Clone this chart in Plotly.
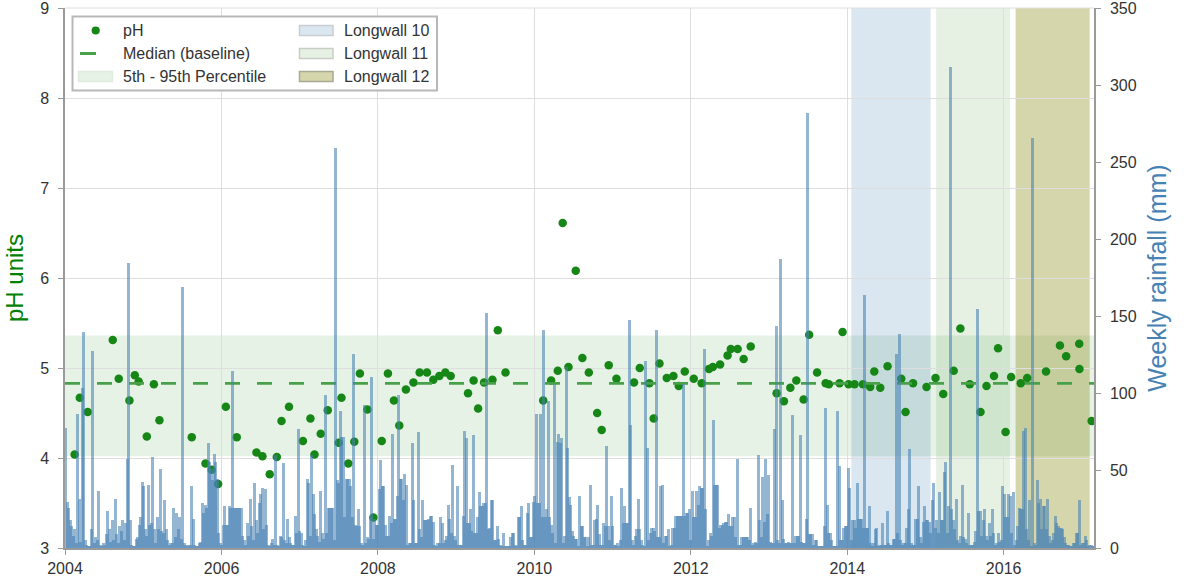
import pandas as pd
import plotly.graph_objects as go

# ---------------- data ----------------
ph_dates = [
    "2004-02-15", "2004-03-10", "2004-04-16", "2004-08-11", "2004-09-08", "2004-10-28", "2004-11-22", "2004-12-10",
    "2005-01-17", "2005-02-19", "2005-03-17", "2005-08-15", "2005-10-18", "2005-11-16", "2005-12-16",
    "2006-01-21", "2006-03-13", "2006-06-13", "2006-07-11", "2006-08-14", "2006-09-16", "2006-10-08", "2006-11-12",
    "2007-01-16", "2007-02-20", "2007-03-11", "2007-04-09", "2007-05-12", "2007-07-02", "2007-07-15", "2007-08-16",
    "2007-09-13", "2007-10-09", "2007-11-13", "2007-12-11",
    "2008-01-19", "2008-02-17", "2008-03-16", "2008-04-10", "2008-05-11", "2008-06-15", "2008-07-14", "2008-08-17",
    "2008-09-16", "2008-10-14", "2008-11-11", "2008-12-06",
    "2009-02-25", "2009-03-23", "2009-04-13", "2009-05-11", "2009-06-19", "2009-07-14", "2009-08-19",
    "2010-02-11", "2010-03-20", "2010-04-20", "2010-05-13", "2010-06-09", "2010-07-13", "2010-08-13", "2010-09-12",
    "2010-10-21", "2010-11-11", "2010-12-14",
    "2011-01-19", "2011-04-11", "2011-05-08", "2011-06-22", "2011-07-12", "2011-08-08", "2011-09-11", "2011-10-12",
    "2011-11-06", "2011-12-04",
    "2012-01-15", "2012-02-21", "2012-03-26", "2012-04-13", "2012-05-17", "2012-06-21", "2012-07-06", "2012-08-07",
    "2012-09-04", "2012-10-07",
    "2013-02-05", "2013-03-11", "2013-04-10", "2013-05-08", "2013-06-11", "2013-07-07", "2013-08-13", "2013-09-22",
    "2013-10-07", "2013-11-26", "2013-12-10",
    "2014-01-07", "2014-02-04", "2014-03-15", "2014-04-18", "2014-05-07", "2014-06-04", "2014-07-08", "2014-09-10",
    "2014-09-30", "2014-11-04",
    "2015-01-06", "2015-02-17", "2015-03-25", "2015-05-13", "2015-06-13", "2015-07-27", "2015-09-15", "2015-10-13",
    "2015-11-17", "2015-12-06",
    "2016-01-10", "2016-02-05", "2016-03-21", "2016-04-20", "2016-07-17", "2016-09-20", "2016-10-19", "2016-12-19",
    "2016-12-20", "2017-02-15",
]
ph_values = [
    4.04, 4.67, 4.51, 5.31, 4.88, 4.64, 4.92, 4.85,
    4.24, 4.82, 4.42, 4.23, 3.94, 3.87, 3.71,
    4.57, 4.23, 4.06, 4.02, 3.82, 4.01, 4.41, 4.57,
    4.19, 4.44, 4.04, 4.27, 4.53, 4.17, 4.67, 3.94,
    4.18, 4.94, 4.54, 3.34,
    4.19, 4.94, 4.64, 4.36, 4.76, 4.84, 4.95, 4.95,
    4.87, 4.91, 4.95, 4.91,
    4.72, 4.86, 4.55, 4.84, 4.87, 5.42, 4.95,
    4.64, 4.86, 4.97, 6.61, 5.01, 6.08, 5.11, 4.95,
    4.50, 4.31, 5.03,
    4.88, 4.84, 5.00, 4.83, 4.44, 5.05, 4.89, 4.91,
    4.80, 4.96,
    4.88, 4.83, 4.99, 5.01, 5.04, 5.14, 5.21, 5.21,
    5.10, 5.24,
    4.72, 4.63, 4.78, 4.86, 4.65, 5.37, 4.95, 4.83,
    4.82, 4.83, 5.40,
    4.82, 4.82, 4.82, 4.79, 4.96, 4.78, 5.02, 4.88,
    4.51, 4.83,
    4.79, 4.89, 4.71, 4.97, 5.44, 4.82, 4.51, 4.80,
    4.91, 5.22,
    4.29, 4.90, 4.83, 4.89, 4.96, 5.25, 5.13, 5.27,
    4.99, 4.41,
]

ph_median = 4.83
ph_p5 = 4.02
ph_p95 = 5.36

# weekly rainfall (mm), consecutive weeks starting 2004-01-01, in blocks of 52 weeks
rain_2004 = [78, 30, 26, 18, 14, 8, 12, 3, 87, 32, 4, 104, 140, 5, 2, 1, 1, 12, 128, 3,
             7, 5, 37, 2, 1, 3, 2, 9, 24, 12, 4, 18, 5, 32, 9, 3, 14, 11, 18, 5,
             16, 58, 185, 18, 2, 1, 1, 6, 7, 15, 20, 43]
rain_2005 = [40, 12, 8, 41, 15, 16, 59, 12, 3, 20, 12, 51, 11, 10, 31, 12, 5, 2, 3, 3,
             26, 7, 23, 12, 20, 6, 169, 3, 2, 1, 2, 2, 40, 19, 2, 1, 1, 3, 4, 29,
             23, 28, 26, 68, 56, 51, 44, 61, 56, 45, 10, 3]
rain_2006 = [2, 15, 27, 15, 15, 27, 26, 115, 26, 26, 26, 26, 26, 26, 8, 5, 2, 16, 8, 32,
             14, 5, 42, 18, 10, 29, 35, 39, 12, 38, 15, 2, 1, 3, 6, 2, 60, 2, 1, 8,
             7, 55, 5, 3, 19, 7, 3, 2, 2, 21, 10, 77]
rain_2007 = [11, 10, 2, 1, 5, 45, 42, 8, 60, 35, 22, 12, 8, 4, 37, 10, 6, 99, 10, 26,
             26, 26, 26, 5, 259, 44, 42, 89, 72, 72, 20, 45, 45, 45, 40, 20, 126, 15, 14, 25,
             14, 3, 2, 93, 3, 7, 6, 20, 111, 6, 19, 15]
rain_2008 = [15, 38, 57, 40, 40, 15, 8, 8, 21, 16, 74, 19, 19, 34, 99, 45, 45, 31, 48, 41,
             2, 3, 3, 68, 31, 3, 3, 75, 12, 7, 31, 18, 18, 18, 19, 21, 21, 17, 2, 1,
             3, 3, 20, 16, 3, 5, 8, 28, 19, 10, 54, 8]
rain_2009 = [5, 40, 2, 2, 2, 21, 76, 71, 16, 16, 25, 11, 73, 10, 10, 20, 36, 27, 27, 29,
             29, 152, 12, 13, 31, 31, 5, 5, 14, 6, 2, 1, 10, 1, 1, 1, 1, 7, 10, 10,
             2, 1, 20, 20, 27, 5, 2, 2, 23, 29, 7, 7]
rain_2010 = [30, 34, 87, 29, 29, 87, 20, 141, 20, 25, 95, 20, 15, 10, 106, 3, 69, 74, 68, 71,
             3, 8, 117, 65, 33, 28, 11, 8, 6, 6, 1, 34, 14, 14, 7, 7, 1, 7, 41, 2,
             2, 18, 19, 28, 9, 2, 2, 16, 14, 66, 14, 5]
rain_2011 = [34, 14, 2, 2, 3, 1, 5, 39, 16, 27, 16, 16, 148, 80, 5, 2, 8, 12, 32, 12,
             5, 2, 1, 121, 65, 5, 10, 13, 13, 11, 141, 7, 7, 40, 41, 3, 8, 8, 12, 1,
             2, 13, 13, 21, 21, 21, 21, 21, 106, 21, 23, 23]
rain_2012 = [25, 5, 37, 20, 20, 37, 28, 40, 39, 39, 129, 25, 1, 5, 10, 8, 83, 41, 41, 41,
             13, 15, 15, 16, 17, 17, 22, 14, 14, 20, 20, 7, 58, 2, 2, 7, 7, 7, 7, 7,
             5, 26, 2, 3, 4, 3, 60, 18, 7, 46, 17, 58]
rain_2013 = [22, 47, 4, 3, 3, 77, 144, 5, 3, 187, 31, 6, 3, 3, 4, 3, 3, 86, 3, 8,
             8, 8, 73, 4, 3, 3, 19, 282, 9, 9, 9, 2, 5, 5, 1, 1, 1, 1, 14, 91,
             28, 10, 10, 5, 1, 1, 1, 89, 53, 5, 5, 13]
rain_2014 = [14, 14, 52, 39, 5, 18, 18, 13, 42, 19, 19, 19, 13, 164, 13, 13, 27, 3, 1, 3,
             12, 13, 1, 2, 2, 16, 2, 2, 24, 3, 2, 2, 6, 6, 126, 10, 139, 5, 2, 3,
             3, 13, 25, 64, 3, 2, 2, 19, 19, 40, 7, 3]
rain_2015 = [17, 27, 18, 18, 17, 10, 31, 42, 13, 18, 10, 36, 18, 18, 49, 56, 10, 27, 312, 25,
             18, 12, 32, 5, 3, 8, 41, 7, 6, 3, 23, 2, 2, 2, 4, 11, 155, 24, 24, 8,
             18, 25, 8, 5, 16, 8, 25, 10, 2, 3, 10, 4]
rain_2016 = [5, 40, 35, 20, 20, 35, 34, 10, 36, 2, 5, 14, 26, 25, 25, 76, 78, 12, 5, 31,
             1, 266, 3, 2, 44, 29, 32, 12, 27, 27, 12, 32, 8, 3, 5, 10, 21, 16, 14, 13,
             13, 12, 7, 3, 2, 2, 1, 1, 3, 3, 10, 10, 31, 2, 3, 3, 8, 5, 1, 2,
             2, 1, 1]

longwall_names = ["Longwall 10", "Longwall 11", "Longwall 12"]
longwall_starts = ["2014-01-20", "2015-02-20", "2016-02-26"]
longwall_ends = ["2015-01-25", "2016-01-30", "2017-02-06"]

legend_left = ["pH", "Median (baseline)", "5th - 95th Percentile"]

x_start = "2004-01-01"
x_end = "2017-02-26"

# ---------------- style ----------------
GREEN = "rgb(22,135,22)"
MEDIAN = "rgb(72,160,72)"
BAND = "rgba(0,128,0,0.10)"
RAIN = "rgba(70,130,180,0.58)"
LW_FILL = ["rgba(70,130,180,0.20)", "rgba(100,160,80,0.16)", "rgba(128,128,0,0.32)"]
LW_EDGE = ["#c9cdd1", "#c9cdc6", "#a9a994"]
FONT = "Liberation Sans, Arial, sans-serif"
TXT = "#333333"
GRID = "#dedede"
AXIS = "#9a9a9a"

L, R, T, B = 65, 90, 8, 38
W, H = 1184, 586
PW, PH = W - L - R, H - T - B


def px(x):
    return (x - L) / PW


def py(y):
    return 1 - (y - T) / PH


# ---------------- build ----------------
rain = (rain_2004 + rain_2005 + rain_2006 + rain_2007 + rain_2008 + rain_2009 + rain_2010
        + rain_2011 + rain_2012 + rain_2013 + rain_2014 + rain_2015 + rain_2016)
week_dates = pd.date_range(start=x_start, periods=len(rain), freq="7D") + pd.Timedelta(days=3.5)

fig = go.Figure()

fig.add_trace(go.Scatter(
    x=ph_dates, y=ph_values, mode="markers", name="pH", showlegend=False,
    marker=dict(color=GREEN, size=8.5, line=dict(width=0)),
))
fig.add_trace(go.Scatter(
    x=[x_start, x_end], y=[ph_median, ph_median], mode="lines", name="Median (baseline)", showlegend=False,
    line=dict(color=MEDIAN, width=2.8, dash="15px,17px"),
))
fig.add_trace(go.Bar(
    x=week_dates, y=rain, yaxis="y2", showlegend=False, name="Weekly rainfall",
    marker=dict(color=RAIN, line=dict(width=0)),
    width=14 * 24 * 3600 * 1000,
))

shapes = [dict(type="rect", xref="paper", x0=0, x1=1, yref="y", y0=ph_p5, y1=ph_p95,
               fillcolor=BAND, line=dict(width=0), layer="below")]
for s, e, col in zip(longwall_starts, longwall_ends, LW_FILL):
    shapes.append(dict(type="rect", xref="x", x0=s, x1=e, yref="paper", y0=0, y1=1,
                       fillcolor=col, line=dict(width=0), layer="below"))
# top grid line (top of the pH range)
shapes.append(dict(type="line", xref="paper", yref="paper", x0=0, x1=1, y0=1, y1=1,
                   line=dict(color=GRID, width=1), layer="below"))

# ---- legend (drawn by hand, two columns inside a frame) ----
rows = [30.5, 53.5, 76.5]
shapes.append(dict(type="rect", xref="paper", yref="paper", x0=px(72.5), x1=px(437),
                   y0=py(90.5), y1=py(16.5), fillcolor="white",
                   line=dict(color="#b8b8b8", width=2), layer="above"))
shapes.append(dict(type="circle", xref="paper", yref="paper", x0=px(91.6), x1=px(99.8),
                   y0=py(rows[0] + 4.1), y1=py(rows[0] - 4.1), fillcolor=GREEN,
                   line=dict(width=0), layer="above"))
shapes.append(dict(type="line", xref="paper", yref="paper", x0=px(80), x1=px(96),
                   y0=py(rows[1]), y1=py(rows[1]), line=dict(color=MEDIAN, width=3), layer="above"))
shapes.append(dict(type="rect", xref="paper", yref="paper", x0=px(78.5), x1=px(112.5),
                   y0=py(rows[2] + 5), y1=py(rows[2] - 5), fillcolor=BAND,
                   line=dict(color="#e2ebe0", width=1.5), layer="above"))
for r, col, edge in zip(rows, LW_FILL, LW_EDGE):
    shapes.append(dict(type="rect", xref="paper", yref="paper", x0=px(299.5), x1=px(333),
                       y0=py(r + 5), y1=py(r - 5), fillcolor=col,
                       line=dict(color=edge, width=1.5), layer="above"))

annotations = []
for r, txt in zip(rows, legend_left):
    annotations.append(dict(text=txt, xref="paper", yref="paper", x=px(121), y=py(r),
                            xanchor="left", yanchor="middle", showarrow=False,
                            font=dict(family=FONT, size=16, color=TXT)))
for r, txt in zip(rows, longwall_names):
    annotations.append(dict(text=txt, xref="paper", yref="paper", x=px(342), y=py(r),
                            xanchor="left", yanchor="middle", showarrow=False,
                            font=dict(family=FONT, size=16, color=TXT)))

tickfont = dict(family=FONT, size=16, color=TXT)

fig.update_layout(
    width=W, height=H,
    margin=dict(l=L, r=R, t=T, b=B),
    paper_bgcolor="white", plot_bgcolor="white",
    font=dict(family=FONT, size=16, color=TXT),
    shapes=shapes, annotations=annotations,
    showlegend=False, bargap=0, barmode="overlay",
    xaxis=dict(
        type="date", range=[x_start, x_end], tick0="2004-01-01", dtick="M24", tickformat="%Y",
        showgrid=True, gridcolor=GRID, gridwidth=1,
        showline=True, linecolor=AXIS, linewidth=1.5,
        ticks="outside", ticklen=5, tickcolor=AXIS, tickfont=tickfont,
        zeroline=False, automargin=False, ticklabeloverflow="allow",
    ),
    yaxis=dict(
        range=[3, 9], dtick=1, tick0=3,
        showgrid=True, gridcolor=GRID, gridwidth=1,
        showline=True, linecolor=AXIS, linewidth=1.5,
        ticks="outside", ticklen=5, tickcolor=AXIS, tickfont=tickfont,
        ticklabelstandoff=6, ticklabeloverflow="allow",
        title=dict(text="pH units", font=dict(family=FONT, size=24, color="green"), standoff=10),
        zeroline=False, automargin=False,
    ),
    yaxis2=dict(
        range=[0, 350], dtick=50, tick0=0, overlaying="y", side="right",
        showgrid=False, showline=True, linecolor=AXIS, linewidth=1.5,
        ticks="outside", ticklen=5, tickcolor=AXIS, tickfont=tickfont,
        ticklabelstandoff=6, ticklabeloverflow="allow",
        title=dict(text="Weekly rainfall (mm)", font=dict(family=FONT, size=25, color="steelblue"), standoff=13),
        zeroline=False, automargin=False,
    ),
)

fig.write_html("out.html", config={"displayModeBar": False},
               post_script="document.body.style.margin='0px';")
